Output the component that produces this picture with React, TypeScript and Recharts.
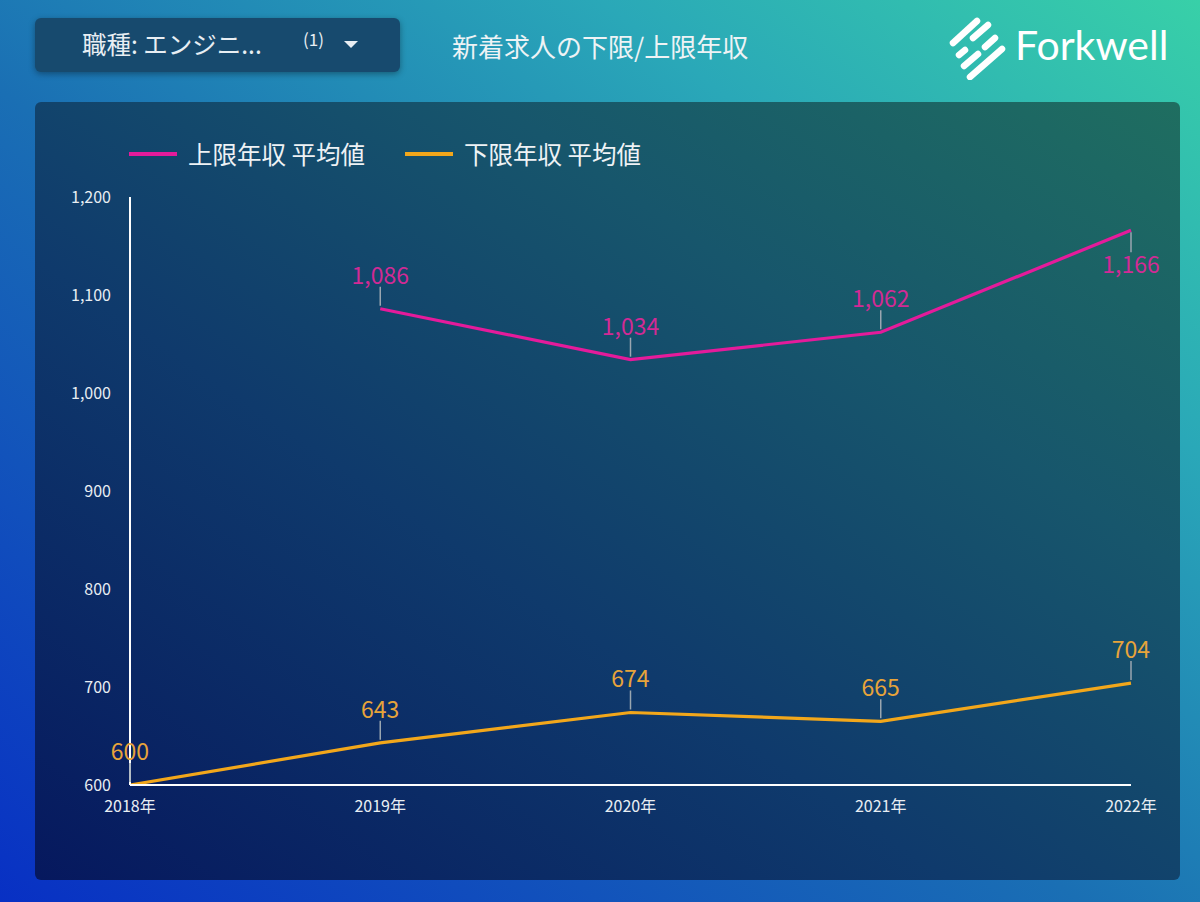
import React from 'react';
import { LineChart, Line, XAxis, YAxis, Legend, LabelList } from 'recharts';

const years = ['2018年', '2019年', '2020年', '2021年', '2022年'];
const upperAvg: (number | null)[] = [null, 1086, 1034, 1062, 1166];
const lowerAvg: (number | null)[] = [600, 643, 674, 665, 704];
const yTicks = [600, 700, 800, 900, 1000, 1100, 1200];
const seriesNames = ['上限年収 平均値', '下限年収 平均値'];
const upperLabelBelow = [4];
const lowerLabelBelow: number[] = [];

const data = years.map((y, i) => ({ year: y, upper: upperAvg[i], lower: lowerAvg[i] }));

const FONT = '"Noto Sans CJK JP", "Noto Sans", sans-serif';
const UPPER_COLOR = '#e41b9b';
const LOWER_COLOR = '#f2a71b';
const UPPER_TEXT = '#d22a95';
const LOWER_TEXT = '#e8a43a';

const fmt = (v: number) => v.toLocaleString('en-US');

const makeLabel = (color: string, below: number[]) => (props: any) => {
  const { x, y, value, index } = props;
  if (value == null || x == null || y == null) return null;
  const isBelow = below.includes(index);
  return (
    <g>
      <line
        x1={x}
        x2={x}
        y1={isBelow ? y + 2 : y - 3}
        y2={isBelow ? y + 22 : y - 22}
        stroke="#9aa6b0"
        strokeWidth={1.5}
      />
      <text
        x={x}
        y={isBelow ? y + 43 : y - 25}
        textAnchor="middle"
        fill={color}
        fontSize={23}
        fontFamily={FONT}
      >
        {fmt(Number(value))}
      </text>
    </g>
  );
};

const LegendContent = () => (
  <div style={{ display: 'flex', alignItems: 'center', fontFamily: FONT, color: '#eef2f5', fontSize: 24.5 }}>
    <div style={{ width: 48, height: 4, background: UPPER_COLOR, marginRight: 11 }} />
    <span style={{ marginRight: 40 }}>{seriesNames[0]}</span>
    <div style={{ width: 48, height: 4, background: LOWER_COLOR, marginRight: 11 }} />
    <span>{seriesNames[1]}</span>
  </div>
);

export default function App() {
  return (
    <div
      style={{
        position: 'absolute',
        left: 0,
        top: 0,
        width: 1200,
        height: 902,
        overflow: 'hidden',
        fontFamily: FONT,
        background: 'linear-gradient(to top right, #0830c4 0%, #1a6fb4 45%, #2aa8b8 75%, #38d0a8 100%)',
      }}
    >
      {/* dropdown */}
      <div
        style={{
          position: 'absolute',
          left: 35,
          top: 18,
          width: 365,
          height: 54,
          borderRadius: 6,
          background: '#174a6e',
          boxShadow: '0 2px 6px rgba(0,0,0,0.35)',
          color: '#e8eef3',
        }}
      >
        <span style={{ position: 'absolute', left: 47, top: 11, fontSize: 24.5, lineHeight: '30px' }}>職種: エンジニ...</span>
        <span style={{ position: 'absolute', left: 268, top: 10, fontSize: 17, lineHeight: '22px' }}>(1)</span>
        <svg style={{ position: 'absolute', left: 309, top: 23 }} width={14} height={8}>
          <polygon points="0,0 14,0 7,7" fill="#e8eef3" />
        </svg>
      </div>
      {/* title */}
      <div style={{ position: 'absolute', left: 452, top: 29, fontSize: 26, lineHeight: '34px', color: '#eef3f5' }}>
        新着求人の下限/上限年収
      </div>
      {/* logo */}
      <svg style={{ position: 'absolute', left: 940, top: 10 }} width={240} height={70}>
        <g stroke="#ffffff" strokeWidth={6.5} strokeLinecap="round" fill="none">
          <line x1={13} y1={33} x2={37} y2={11} />
          <line x1={19} y1={45} x2={25} y2={40} />
          <line x1={33} y1={28} x2={48} y2={15} />
          <line x1={24} y1={56} x2={38} y2={44} />
          <line x1={45} y1={37} x2={55} y2={28} />
          <line x1={30} y1={67} x2={62} y2={39} />
        </g>
        <text x={75} y={50} fontSize={41} fontFamily="Lato, sans-serif" fill="#ffffff">Forkwell</text>
      </svg>
      {/* panel */}
      <div
        style={{
          position: 'absolute',
          left: 35,
          top: 102,
          width: 1145,
          height: 778,
          borderRadius: 6,
          background: 'linear-gradient(to top right, #06185e 0%, #0f3a6c 40%, #17566c 70%, #1f6e60 100%)',
        }}
      />
      <div style={{ position: 'absolute', left: 0, top: 0 }}>
        <LineChart width={1200} height={902} data={data} margin={{ top: 197, right: 69, bottom: 87, left: 70 }}>
          <XAxis
            dataKey="year"
            axisLine={{ stroke: '#ffffff', strokeWidth: 2 }}
            tickLine={false}
            tickSize={6}
            tickMargin={10}
            tick={{ fill: '#e8eef3', fontSize: 16 }}
            interval={0}
          />
          <YAxis
            width={60}
            domain={[600, 1200]}
            ticks={yTicks}
            tickFormatter={fmt}
            axisLine={{ stroke: '#ffffff', strokeWidth: 2 }}
            tickLine={false}
            tickSize={6}
            tickMargin={13}
            tick={{ fill: '#e8eef3', fontSize: 16 }}
            allowDataOverflow
          />
          <Legend
            layout="horizontal"
            verticalAlign="middle"
            align="center"
            wrapperStyle={{ top: 136, left: 129, width: 700 }}
            content={<LegendContent />}
          />
          <Line
            type="linear"
            dataKey="upper"
            name={seriesNames[0]}
            stroke={UPPER_COLOR}
            strokeWidth={3.2}
            dot={false}
            activeDot={false}
            connectNulls={false}
            isAnimationActive={false}
          >
            <LabelList dataKey="upper" content={makeLabel(UPPER_TEXT, upperLabelBelow)} />
          </Line>
          <Line
            type="linear"
            dataKey="lower"
            name={seriesNames[1]}
            stroke={LOWER_COLOR}
            strokeWidth={3.2}
            dot={false}
            activeDot={false}
            connectNulls={false}
            isAnimationActive={false}
          >
            <LabelList dataKey="lower" content={makeLabel(LOWER_TEXT, lowerLabelBelow)} />
          </Line>
        </LineChart>
      </div>
    </div>
  );
}
